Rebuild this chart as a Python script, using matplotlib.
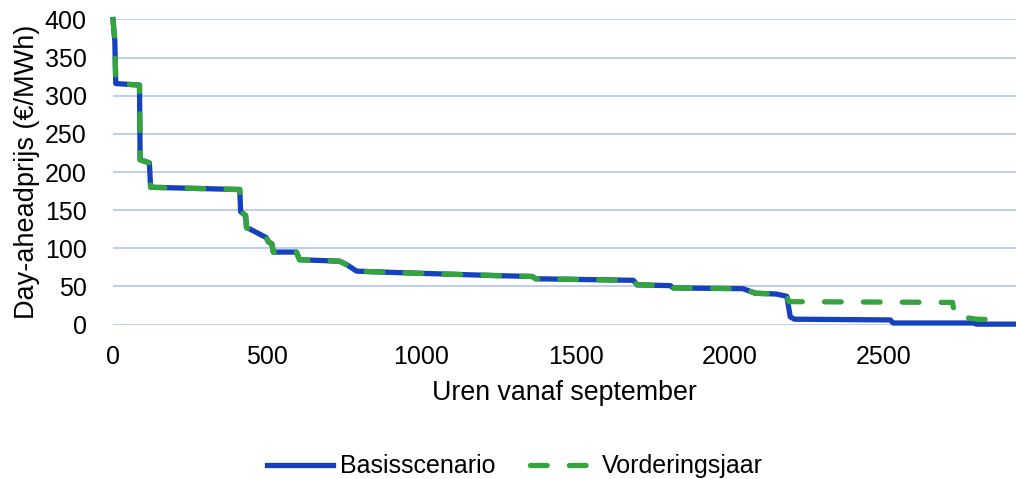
import matplotlib
matplotlib.use("Agg")
from matplotlib import pyplot as plt

plt.rcParams['font.family'] = ['Liberation Sans', 'DejaVu Sans']
plt.rcParams['lines.scale_dashes'] = False

# Data: load-duration style price curve, hours vs EUR/MWh
basis_hours = [0, 6, 9, 86, 88, 118, 122, 411, 414, 430, 433, 445, 497, 505, 515, 520,
               595, 605, 735, 760, 790, 930, 1255, 1360, 1370, 1687, 1700, 1807, 1817,
               2043, 2083, 2150, 2185, 2196, 2210, 2520, 2530, 2790, 2800, 2928]
basis_price = [400, 372, 316, 314, 216, 212, 180, 177, 148, 143, 127, 125, 114, 108, 106, 95,
               95, 85, 83, 78, 70, 68, 64, 63, 60, 58, 52, 51, 48,
               47, 41, 40, 37, 10, 7, 6, 2, 2, 0.5, 0.5]

vord_hours = [0, 6, 9, 86, 88, 118, 122, 411, 414, 430, 433, 445, 497, 505, 515, 520,
              595, 605, 735, 760, 790, 930, 1255, 1360, 1370, 1687, 1700, 1807, 1817,
              2043, 2083, 2150, 2185, 2192, 2722, 2730, 2800, 2872]
vord_price = [400, 372, 316, 314, 216, 212, 180, 177, 148, 143, 127, 125, 114, 108, 106, 95,
              95, 85, 83, 78, 70, 68, 64, 63, 60, 58, 52, 51, 48,
              47, 41, 40, 37, 30, 29, 11, 7, 6]

blue = '#1641BD'
green = '#33A53C'
grid_col = '#B9CAF2'

fig = plt.figure(figsize=(10.16, 4.79), dpi=100)
ax = fig.add_axes([0.1112, 0.3225, 0.8888, 0.6368])

for y in range(0, 401, 50):
    ax.axhline(y, color=grid_col, lw=1.3, zorder=0)

ax.plot(basis_hours, basis_price, color=blue, lw=3.8, solid_joinstyle='round',
        clip_on=False, label='Basisscenario', zorder=2)
ax.plot(vord_hours, vord_price, color=green, lw=3.8, dashes=(12, 16),
        dash_capstyle='round', clip_on=False, label='Vorderingsjaar', zorder=3)

ax.set_xlim(0, 2928)
ax.set_ylim(0, 400)
ax.set_xticks(range(0, 2501, 500))
ax.set_yticks(range(0, 401, 50))
ax.tick_params(length=0, labelsize=18, colors='black')
ax.tick_params(axis='x', pad=15)
ax.tick_params(axis='y', pad=19)
for s in ax.spines.values():
    s.set_visible(False)

ax.set_xlabel('Uren vanaf september', fontsize=19.3, labelpad=8)
ax.set_ylabel('Day-aheadprijs (€/MWh)', fontsize=19.5, labelpad=3)

ax.legend(loc='center', bbox_to_anchor=(0.4455, -0.465), ncol=2, frameon=False,
          fontsize=18, handlelength=2.64, handletextpad=0.25, columnspacing=1.4)

fig.savefig('out.png', dpi=100)
